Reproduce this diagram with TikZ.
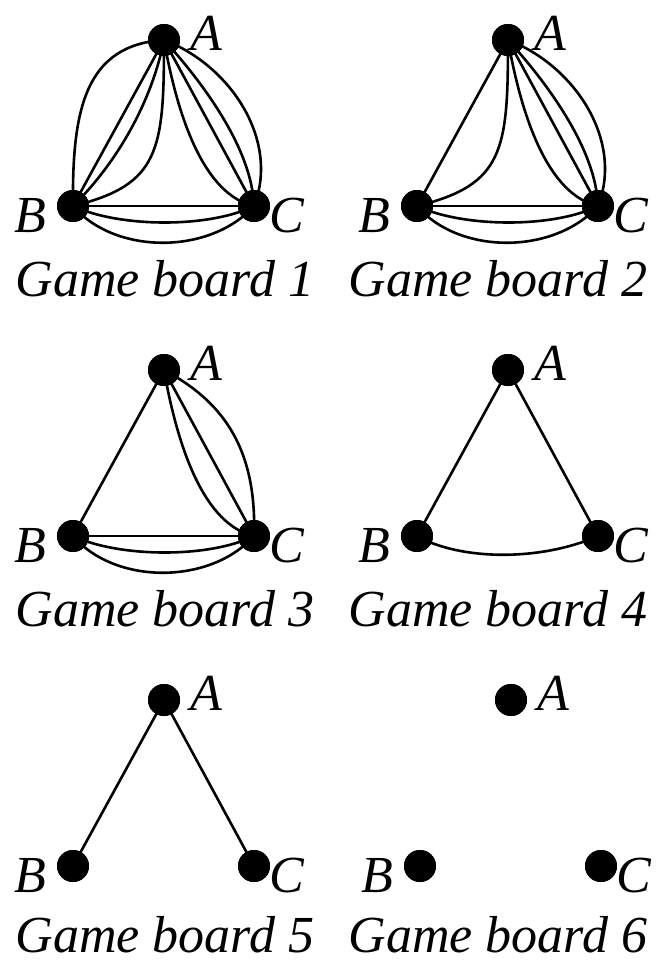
\documentclass[tikz,border=0pt]{standalone}
\usepackage{fontspec}
\setmainfont{Liberation Serif}
\begin{document}
\begin{tikzpicture}[x=1pt,y=-1pt,
  dot/.style={circle,fill=black,inner sep=0pt,minimum size=32pt},
  vlabel/.style={font=\fontsize{52}{52}\selectfont\itshape,inner sep=0pt,anchor=base west},
  caption/.style={font=\fontsize{52}{52}\selectfont\itshape,inner sep=0pt,anchor=base},
  edge/.style={line width=2.6pt}]
\useasboundingbox (0,0) rectangle (668,962);

% one board: three vertices A, B, C with their letters; #1 = id, (#2,#3) = vertex A
\newcommand\gameboard[3]{%
  \node[dot] (A#1) at (#2,#3) {};
  \node[dot] (B#1) at (#2-91,#3+166) {};
  \node[dot] (C#1) at (#2+90,#3+166) {};
  \node[vlabel] (LA#1) at (#2+26,#3+10) {A};
  \node[vlabel] (LB#1) at (#2-150,#3+192) {B};
  \node[vlabel] (LC#1) at (#2+105,#3+192) {C};
}

\gameboard{1}{164}{40}
\gameboard{2}{508}{40}
\gameboard{3}{164}{370}
\gameboard{4}{508}{370}
\gameboard{5}{164}{700}
\gameboard{6}{511}{700}

\node[caption] (cap1) at (165,296) {Game board 1};
\node[caption] (cap2) at (498,296) {Game board 2};
\node[caption] (cap3) at (165,626) {Game board 3};
\node[caption] (cap4) at (498,626) {Game board 4};
\node[caption] (cap5) at (165,952) {Game board 5};
\node[caption] (cap6) at (498,952) {Game board 6};

% board 1
\begin{scope}[edge]
  \draw (A1.center) .. controls +(-79,5) and +(-1,-96) .. (B1.center);
  \draw (A1.center) -- (B1.center);
  \draw (A1.center) .. controls +(-14,70) and +(37,-36) .. (B1.center);
  \draw (A1.center) .. controls +(0,110) and +(87,-21) .. (B1.center);
  \draw (A1.center) .. controls +(14,80) and +(-49,-11) .. (C1.center);
  \draw (A1.center) -- (C1.center);
  \draw (A1.center) .. controls +(41,45) and +(-2,-56) .. (C1.center);
  \draw (A1.center) .. controls +(66,25) and +(26,-66) .. (C1.center);
  \draw (B1.center) -- (C1.center);
  \draw (B1.center) .. controls +(47,22) and +(-44,22) .. (C1.center);
  \draw (B1.center) .. controls +(42,49) and +(-44,49) .. (C1.center);
\end{scope}

% board 2
\begin{scope}[edge]
  \draw (A2.center) -- (B2.center);
  \draw (A2.center) .. controls +(0,110) and +(87,-21) .. (B2.center);
  \draw (A2.center) .. controls +(14,80) and +(-49,-11) .. (C2.center);
  \draw (A2.center) -- (C2.center);
  \draw (A2.center) .. controls +(41,45) and +(-2,-56) .. (C2.center);
  \draw (A2.center) .. controls +(66,25) and +(26,-66) .. (C2.center);
  \draw (B2.center) -- (C2.center);
  \draw (B2.center) .. controls +(47,22) and +(-44,22) .. (C2.center);
  \draw (B2.center) .. controls +(42,49) and +(-44,49) .. (C2.center);
\end{scope}

% board 3
\begin{scope}[edge]
  \draw (A3.center) -- (B3.center);
  \draw (A3.center) .. controls +(14,80) and +(-49,-11) .. (C3.center);
  \draw (A3.center) -- (C3.center);
  \draw (A3.center) .. controls +(56,30) and +(3,-91) .. (C3.center);
  \draw (B3.center) -- (C3.center);
  \draw (B3.center) .. controls +(47,22) and +(-44,22) .. (C3.center);
  \draw (B3.center) .. controls +(42,49) and +(-44,49) .. (C3.center);
\end{scope}

% board 4
\begin{scope}[edge]
  \draw (A4.center) -- (B4.center);
  \draw (A4.center) -- (C4.center);
  \draw (B4.center) .. controls +(42,24) and +(-59,26) .. (C4.center);
\end{scope}

% board 5
\begin{scope}[edge]
  \draw (A5.center) -- (B5.center);
  \draw (A5.center) -- (C5.center);
\end{scope}

% redraw the vertices on top of the edges
\foreach \b in {1,...,6}{
  \foreach \v in {A,B,C}{
    \fill (\v\b) circle (16pt);
  }
}
\end{tikzpicture}
\end{document}
